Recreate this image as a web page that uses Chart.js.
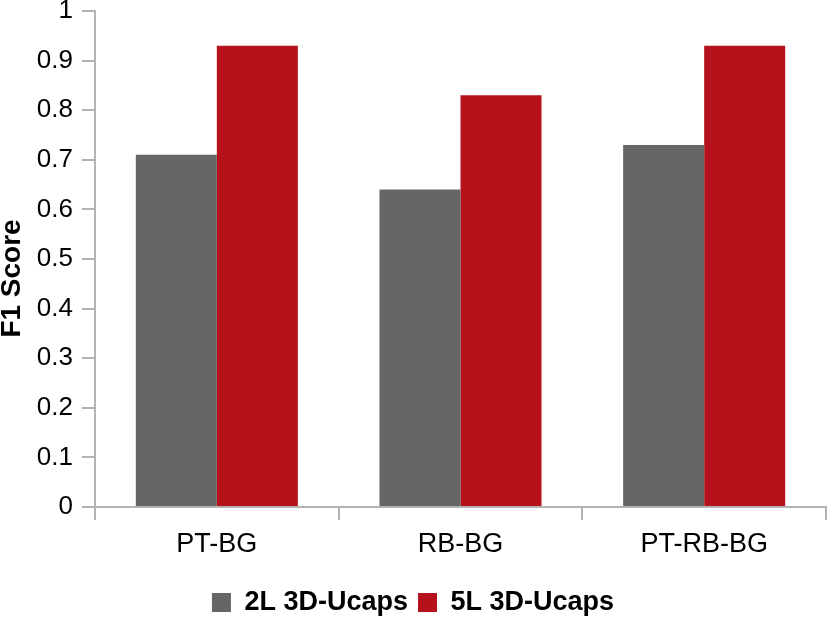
<!DOCTYPE html>
<html>
<head>
<meta charset="utf-8">
<script src="https://cdn.jsdelivr.net/npm/chart.js@4"></script>
<style>
    html, body { margin: 0; padding: 0; background: #ffffff; }
    #wrap { width: 832px; height: 620px; }
</style>
</head>
<body>
<div id="wrap"><canvas id="chart" width="832" height="620"></canvas></div>
<script>
// Categories and series
const categories = ['PT-BG', 'RB-BG', 'PT-RB-BG'];
const series2L = [0.71, 0.64, 0.73];
const series5L = [0.93, 0.83, 0.93];
const seriesNames = ['2L 3D-Ucaps', '5L 3D-Ucaps'];

const axisColor = '#b3b3b3';
const fontFamily = '"Liberation Sans", Arial, sans-serif';

const ctx = document.getElementById('chart').getContext('2d');

new Chart(ctx, {
    type: 'bar',
    data: {
        labels: categories,
        datasets: [
            {
                label: seriesNames[0],
                data: series2L,
                backgroundColor: '#666666',
                borderWidth: 0,
                categoryPercentage: 0.665,
                barPercentage: 1.0
            },
            {
                label: seriesNames[1],
                data: series5L,
                backgroundColor: '#b5121b',
                borderWidth: 0,
                categoryPercentage: 0.665,
                barPercentage: 1.0
            }
        ]
    },
    options: {
        responsive: false,
        animation: false,
        layout: {
            // negative bottom pushes the legend down a bit
            padding: { top: 11, right: 6, left: 0, bottom: -6 }
        },
        plugins: {
            tooltip: { enabled: false },
            legend: {
                position: 'bottom',
                labels: {
                    color: '#000000',
                    boxWidth: 19,
                    boxHeight: 19,
                    padding: 10,
                    font: { family: fontFamily, size: 27, weight: 'bold' }
                }
            }
        },
        scales: {
            x: {
                grid: {
                    display: true,
                    offset: true,
                    drawOnChartArea: false,
                    drawTicks: true,
                    tickLength: 13,
                    color: axisColor,
                    lineWidth: 2
                },
                border: { display: true, color: axisColor, width: 2 },
                ticks: {
                    color: '#000000',
                    padding: 8,
                    font: { family: fontFamily, size: 27 }
                },
                afterFit(scale) {
                    scale.height = 72;
                    scale.paddingLeft = 0;
                    scale.paddingRight = 0;
                }
            },
            y: {
                min: 0,
                max: 1,
                grid: {
                    display: true,
                    drawOnChartArea: false,
                    drawTicks: true,
                    tickLength: 13,
                    color: axisColor,
                    lineWidth: 2
                },
                border: { display: true, color: axisColor, width: 2 },
                ticks: {
                    stepSize: 0.1,
                    color: '#000000',
                    padding: 9,
                    font: { family: fontFamily, size: 26 },
                    callback: function(value) {
                        return Math.round(value * 10) / 10;
                    }
                },
                title: {
                    display: true,
                    // trailing nbsp nudge the rotated title a little lower, like the original
                    text: 'F1 Score\u00a0\u00a0\u00a0\u00a0\u00a0',
                    color: '#000000',
                    padding: 0,
                    font: { family: fontFamily, size: 28, weight: 'bold', lineHeight: 0.9 }
                },
                afterFit(scale) {
                    scale.width = 95;
                    scale.paddingTop = 0;
                    scale.paddingBottom = 0;
                }
            }
        }
    }
});
</script>
</body>
</html>
